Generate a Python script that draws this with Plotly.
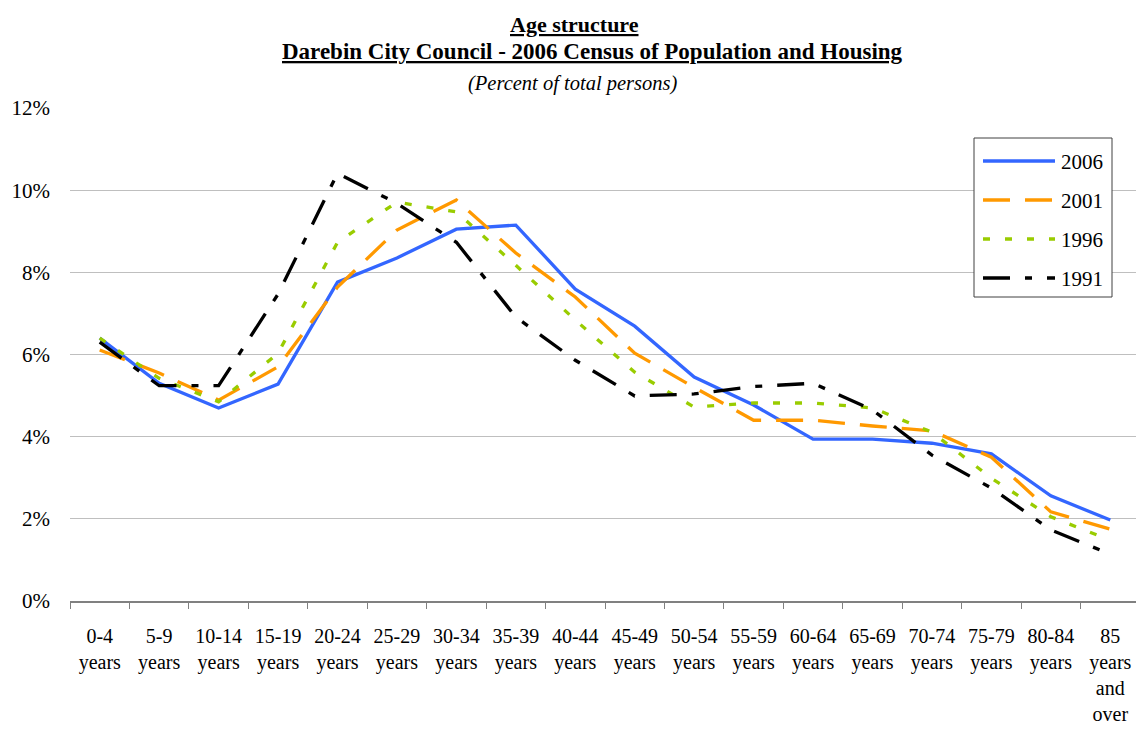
import plotly.graph_objects as go

categories = ["0-4<br>years", "5-9<br>years", "10-14<br>years", "15-19<br>years",
              "20-24<br>years", "25-29<br>years", "30-34<br>years", "35-39<br>years",
              "40-44<br>years", "45-49<br>years", "50-54<br>years", "55-59<br>years",
              "60-64<br>years", "65-69<br>years", "70-74<br>years", "75-79<br>years",
              "80-84<br>years", "85<br>years<br>and<br>over"]

y2006 = [6.40, 5.30, 4.70, 5.28, 7.76, 8.35, 9.05, 9.15, 7.59, 6.69, 5.45, 4.77,
         3.94, 3.94, 3.84, 3.58, 2.56, 1.97]
y2001 = [6.11, 5.55, 4.89, 5.70, 7.64, 9.03, 9.76, 8.47, 7.40, 6.03, 5.20, 4.40,
         4.40, 4.26, 4.14, 3.50, 2.17, 1.75]
y1996 = [6.40, 5.42, 4.85, 6.03, 8.73, 9.71, 9.47, 8.17, 6.84, 5.57, 4.72, 4.82,
         4.82, 4.70, 4.11, 2.99, 2.05, 1.48]
y1991 = [6.30, 5.24, 5.24, 7.47, 10.41, 9.68, 8.73, 6.91, 5.86, 4.99, 5.04, 5.22,
         5.30, 4.65, 3.55, 2.75, 1.73, 1.14]

series_names = ["2006", "2001", "1996", "1991"]
series_values = [y2006, y2001, y1996, y1991]
series_colors = ["#3366FF", "#FF9900", "#99CC00", "#000000"]
series_dash = ["solid", "27px,15px", "7px,15px", "27px,15px,7px,15px"]

# page offset from the default body margin
OFF = 8
W, H = 1144 - OFF, 729 - OFF
# plot area in page pixels: x 70..1140, y 108..601
L = 70 - OFF
R = W - (1140 - OFF)
T = 108 - OFF
B = H - (601 - OFF)
FONT = "Liberation Serif"

fig = go.Figure()
for name, vals, col, dash in zip(series_names, series_values, series_colors, series_dash):
    fig.add_trace(go.Scatter(x=categories, y=vals, name=name, mode="lines",
                             line=dict(color=col, width=3.3, dash=dash),
                             showlegend=False))

pw = W - L - R
ph = H - T - B


def px_x(p):
    return (p - OFF - L) / pw


def px_y(p):
    return (H - B - (p - OFF)) / ph


shapes = []
annotations = []

# Titles
annotations.append(dict(text="<b><u>Age structure</u></b>", x=px_x(574), y=px_y(10),
                        xref="paper", yref="paper", showarrow=False,
                        xanchor="center", yanchor="top",
                        font=dict(family=FONT, size=22, color="black")))
annotations.append(dict(text="<b><u>Darebin City Council - 2006 Census of Population and Housing</u></b>",
                        x=px_x(592), y=px_y(51), xref="paper", yref="paper", showarrow=False,
                        xanchor="center", yanchor="middle",
                        font=dict(family=FONT, size=23, color="black")))
annotations.append(dict(text="<i>(Percent of total persons)</i>", x=px_x(572), y=px_y(84),
                        xref="paper", yref="paper", showarrow=False,
                        xanchor="center", yanchor="middle",
                        font=dict(family=FONT, size=20.5, color="black")))

# Custom legend
shapes.append(dict(type="rect", xref="paper", yref="paper",
                   x0=px_x(974), x1=px_x(1112), y0=px_y(297), y1=px_y(138),
                   line=dict(color="#404040", width=1), fillcolor="white", layer="above"))
rows = [161, 200, 239, 278]
for name, col, dash, ry in zip(series_names, series_colors, series_dash, rows):
    shapes.append(dict(type="line", xref="paper", yref="paper",
                       x0=px_x(983), x1=px_x(1055), y0=px_y(ry), y1=px_y(ry),
                       line=dict(color=col, width=3.3, dash=dash), layer="above"))
    annotations.append(dict(text=name, x=px_x(1059), y=px_y(ry + 1), xref="paper", yref="paper",
                            showarrow=False, xanchor="left", yanchor="middle",
                            font=dict(family=FONT, size=21, color="black")))

fig.update_layout(
    width=W, height=H,
    margin=dict(l=L, r=R, t=T, b=B, pad=0, autoexpand=False),
    paper_bgcolor="white", plot_bgcolor="white",
    font=dict(family=FONT, size=20, color="black"),
    shapes=shapes, annotations=annotations,
    showlegend=False,
)
fig.update_xaxes(type="category", tickson="boundaries", ticks="outside", ticklen=6,
                 tickcolor="#808080", showline=True, linecolor="#808080", linewidth=1.5,
                 showgrid=False, tickangle=0, ticklabelstandoff=16, automargin=False,
                 range=[-0.5, len(categories) - 0.5],
                 tickfont=dict(family=FONT, size=20, color="black"))
fig.update_yaxes(range=[0, 12], dtick=2, ticksuffix="%", showgrid=True,
                 gridcolor="#BFBFBF", gridwidth=1, zeroline=False, showline=False,
                 ticks="", ticklabelstandoff=19, automargin=False,
                 tickfont=dict(family=FONT, size=21, color="black"))

fig.write_html("out.html")
